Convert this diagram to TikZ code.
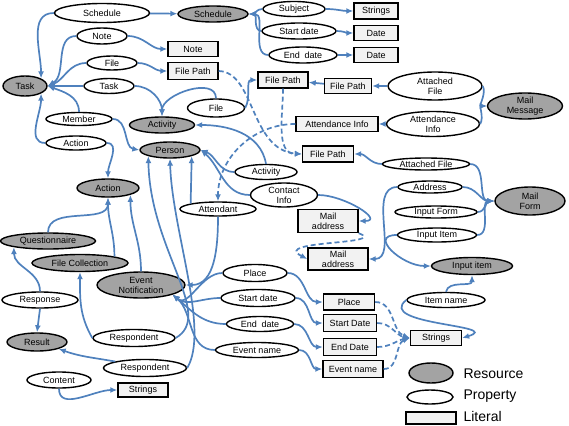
\documentclass[tikz,border=0pt]{standalone}
\usepackage{fontspec}
\setsansfont{Liberation Sans}
\usetikzlibrary{arrows.meta,shapes.geometric}
\definecolor{linkblue}{RGB}{79,129,189}
\definecolor{resgray}{RGB}{163,163,163}
\definecolor{litgray}{RGB}{242,242,242}

\begin{document}
\begin{tikzpicture}[x=1pt,y=1pt,font=\sffamily\fontsize{9}{10}\selectfont,
    res/.style={ellipse,draw,line width=1.4pt,fill=resgray,inner sep=0pt,align=center},
    prop/.style={ellipse,draw,line width=1.4pt,fill=white,inner sep=0pt,align=center},
    lit/.style={rectangle,draw,line width=1.4pt,fill=litgray,inner sep=0pt,align=center},
    wh/.style 2 args={minimum width=#1,minimum height=#2},
    link/.style={draw=linkblue,line width=1.7pt,-{Latex[length=7pt,width=6pt]}},
    dlink/.style={link,dash pattern=on 5pt off 3pt}]

    \useasboundingbox (0,0) rectangle (569,-425);

    % Resources
    \node [res,wh={44}{20}] (task) at (25,-86) {Task};
    \node [res,wh={70}{16}] (schedR) at (213,-14) {Schedule};
    \node [res,wh={65}{16}] (activityR) at (162,-125) {Activity};
    \node [res,wh={60}{16}] (person) at (170,-150) {Person};
    \node [res,wh={62}{18}] (actionR) at (108,-188) {Action};
    \node [res,wh={95}{16}] (quest) at (48,-241) {Questionnaire};
    \node [res,wh={96}{17}] (fileColl) at (80,-263) {File Collection};
    \node [res,wh={88}{26}] (eventNot) at (141,-285) {Event\\Notification};
    \node [res,wh={60}{18}] (result) at (37,-342) {Result};
    \node [res,wh={75}{24}] (mailMsg) at (525,-106) {Mail\\Message};
    \node [res,wh={70}{28}] (mailForm) at (530,-201) {Mail\\Form};
    \node [res,wh={81}{17}] (inputItemR) at (472,-266) {Input item};

    % Properties
    \node [prop,wh={95}{19}] (schedP) at (102,-13) {Schedule};
    \node [prop,wh={50}{16}] (noteP) at (102,-36) {Note};
    \node [prop,wh={50}{14}] (fileP) at (112,-63) {File};
    \node [prop,wh={50}{15}] (taskP) at (109,-86) {Task};
    \node [prop,wh={66}{13}] (memberP) at (79,-119) {Member};
    \node [prop,wh={60}{14}] (actionP) at (76,-143) {Action};
    \node [prop,wh={62}{15}] (subjectP) at (294,-9) {Subject};
    \node [prop,wh={74}{16}] (startP) at (299,-31) {Start date};
    \node [prop,wh={68}{16}] (endP) at (303,-55) {End\enspace date};
    \node [prop,wh={57}{18}] (fileP2) at (216,-108) {File};
    \node [prop,wh={94}{28}] (attFileP) at (435,-86) {Attached\\File};
    \node [prop,wh={93}{25}] (attInfoP) at (433,-124) {Attendance\\Info};
    \node [prop,wh={62}{15}] (activityP) at (266,-172) {Activity};
    \node [prop,wh={67}{24}] (contactP) at (284,-195) {Contact\\Info};
    \node [prop,wh={76}{14}] (attendantP) at (218,-209) {Attendant};
    \node [prop,wh={87}{12}] (attFileP2) at (426,-164) {Attached File};
    \node [prop,wh={64}{12}] (addressP) at (430,-187) {Address};
    \node [prop,wh={82}{12}] (inputFormP) at (436,-212) {Input Form};
    \node [prop,wh={79}{14}] (inputItemP) at (437,-235) {Input Item};
    \node [prop,wh={64}{17}] (placeP) at (255,-273) {Place};
    \node [prop,wh={74}{17}] (startP2) at (258,-298) {Start date};
    \node [prop,wh={67}{15}] (endP2) at (260,-324) {End\enspace date};
    \node [prop,wh={83}{15}] (eventNameP) at (257,-350) {Event name};
    \node [prop,wh={76}{16}] (responseP) at (40,-300) {Response};
    \node [prop,wh={82}{17}] (respP1) at (134,-338) {Respondent};
    \node [prop,wh={83}{17}] (respP2) at (145,-368) {Respondent};
    \node [prop,wh={64}{16}] (contentP) at (59,-380) {Content};
    \node [prop,wh={78}{15}] (itemNameP) at (446,-300) {Item name};

    % Literals
    \node [lit,wh={44}{16}] (stringsL1) at (376,-11) {Strings};
    \node [lit,wh={44}{15}] (dateL1) at (376,-33) {Date};
    \node [lit,wh={44}{15}] (dateL2) at (376,-55) {Date};
    \node [lit,wh={50}{15}] (noteL) at (193,-49) {Note};
    \node [lit,wh={50}{17}] (fpL1) at (193,-71) {File Path};
    \node [lit,wh={50}{16}] (fpL2) at (283,-80) {File Path};
    \node [lit,wh={47}{15}] (fpL3) at (348,-86) {File Path};
    \node [lit,wh={82}{15}] (attInfoL) at (337,-124) {Attendance Info};
    \node [lit,wh={51}{16}] (fpL4) at (328,-154) {File Path};
    \node [lit,wh={60}{23}] (mailL1) at (328,-221) {Mail\\address};
    \node [lit,wh={60}{22}] (mailL2) at (338,-259) {Mail\\address};
    \node [lit,wh={51}{16}] (placeL) at (349,-302) {Place};
    \node [lit,wh={53}{17}] (startL) at (350,-323) {Start Date};
    \node [lit,wh={53}{17}] (endL) at (350,-347) {End Date};
    \node [lit,wh={60}{17}] (eventNameL) at (353,-369) {Event name};
    \node [lit,wh={51}{15}] (stringsL2) at (436,-338) {Strings};
    \node [lit,wh={50}{14}] (stringsL3) at (143,-390) {Strings};

    % Task links
    \draw [link] (schedP.west) to [out=180,in=90] (task.north east);
    \draw [link] (schedP) -- (schedR);
    \draw [link] (noteP.west) to [out=180,in=30] (task.east);
    \draw [link] (noteP.east) to [out=0,in=180] (noteL.west);
    \draw [link] (fileP.west) to [out=180,in=20] (task.east);
    \draw [link] (fileP.east) to [out=0,in=180] (fpL1.west);
    \draw [link] (taskP) -- (task);
    \draw [link] (taskP.east) to [out=0,in=90] (activityR.north);
    \draw [link] (memberP.north) to [out=90,in=-20] (task.east);
    \draw [link] (memberP.east) to [out=0,in=170] (person.west);
    \draw [link] (actionP.west) to [out=180,in=-90] (task.south east);
    \draw [link] (actionP.east) to [out=0,in=90] (actionR.north);

    % Schedule links
    \draw [link] (subjectP.west) to [out=180,in=0] (schedR.east);
    \draw [link] (startP.west) to [out=180,in=0] (schedR.east);
    \draw [link] (endP.west) to [out=180,in=0] (schedR.east);
    \draw [link] (subjectP.east) to [out=0,in=180] (stringsL1.west);
    \draw [link] (startP.east) to [out=0,in=180] (dateL1.west);
    \draw [link] (endP.east) to [out=0,in=180] (dateL2.west);

    % File paths and mail message
    \draw [link] (fileP2.north) to [out=90,in=90] (activityR.north);
    \draw [link] (fileP2.east) to [out=60,in=180] (fpL2.west);
    \draw [dlink] (fpL1.east) .. controls (255,-72) and (250,-150) .. (fpL4.west);
    \draw [dlink] (fpL2.south) to [out=-90,in=180] (fpL4.west);
    \draw [link] (fpL3) -- (fpL2);
    \draw [link] (attFileP) -- (fpL3);
    \draw [link] (attFileP.east) to [out=-60,in=180] (mailMsg.west);
    \draw [link] (attInfoP.east) to [out=60,in=180] (mailMsg.west);
    \draw [link] (attInfoP) -- (attInfoL);
    \draw [dlink] (attInfoL.west) to [out=180,in=90] (attendantP.north);

    % Person links
    \draw [link] (activityP.north) to [out=100,in=0] (activityR.east);
    \draw [link] (activityP.west) to [out=180,in=-20] (person.east);
    \draw [link] (contactP.west) to [out=180,in=-40] (person.east);
    \draw [link] (contactP.east) to [out=0,in=0,looseness=1.4] (mailL1.east);
    \draw [dlink] (mailL1.south east) .. controls (390,-245) and (270,-240) .. (mailL2.west);

    % Mail form links
    \draw [link] (addressP.west) to [out=180,in=0] (mailL2.east);
    \draw [link] (attFileP2.west) to [out=180,in=0] (fpL4.east);
    \draw [link] (attFileP2.east) to [out=0,in=180] (mailForm.west);
    \draw [link] (addressP.east) to [out=0,in=180] (mailForm.west);
    \draw [link] (inputFormP.east) to [out=0,in=180] (mailForm.west);
    \draw [link] (inputItemP.east) to [out=0,in=180] (mailForm.west);
    \draw [link] (inputItemP.west) to [out=180,in=180,looseness=1.6] (inputItemR.west);
    \draw [link] (itemNameP.north) to [out=80,in=-90] (inputItemR.south);
    \draw [link] (itemNameP.west) .. controls (375,-325) and (505,-325) .. (stringsL2.east);

    % Event notification links
    \draw [link] (attendantP.north west) -- (person.south east);
    \draw [link] (attendantP.south) to [out=-90,in=0] (eventNot.east);
    \draw [link] (eventNot.north) to [out=90,in=-90] (actionR.south east);
    \draw [link] (quest.north) to [out=90,in=-90] (actionR.south);
    \draw [link] (fileColl.north east) to [out=90,in=-90] (actionR.south);
    \draw [link] (placeP.west) to [out=180,in=-40] (eventNot.south east);
    \draw [link] (startP2.west) to [out=180,in=-40] (eventNot.south east);
    \draw [link] (endP2.west) to [out=180,in=-40] (eventNot.south east);
    \draw [link] (eventNameP.west) to [out=180,in=-40] (eventNot.south east);
    \draw [link] (placeP.east) to [out=0,in=180] (placeL.west);
    \draw [link] (startP2.east) to [out=0,in=180] (startL.west);
    \draw [link] (endP2.east) to [out=0,in=180] (endL.west);
    \draw [link] (eventNameP.east) to [out=0,in=180] (eventNameL.west);
    \draw [dlink] (placeL.east) to [out=0,in=160] (stringsL2.west);
    \draw [dlink] (startL.east) to [out=0,in=170] (stringsL2.west);
    \draw [dlink] (endL.east) to [out=0,in=190] (stringsL2.west);
    \draw [dlink] (eventNameL.east) to [out=0,in=200] (stringsL2.west);

    % Questionnaire and result links
    \draw [link] (responseP.north) to [out=90,in=-90] (quest.south west);
    \draw [link] (responseP.south) -- (result.north);
    \draw [link] (respP1.west) to [out=120,in=-90] (fileColl.south);
    \draw [link] (respP1.east) .. controls (215,-315) and (150,-250) .. (person.south west);
    \draw [link] (respP2.east) .. controls (210,-330) and (172,-230) .. (person.south);
    \draw [link] (respP2.north west) to [out=170,in=-20] (result.south east);
    \draw [link] (contentP.south) to [out=-90,in=180] (stringsL3.west);

    % Legend
    \node [res,wh={44}{20}] (legRes) at (431,-373) {};
    \node [prop,wh={46}{14}] (legProp) at (430,-397) {};
    \node [lit,wh={50}{12}] (legLit) at (431,-418) {};
    \node [anchor=west,font=\sffamily\fontsize{14}{16}\selectfont] (legResText) at (460,-374) {Resource};
    \node [anchor=west,font=\sffamily\fontsize{14}{16}\selectfont] (legPropText) at (460,-396) {Property};
    \node [anchor=west,font=\sffamily\fontsize{14}{16}\selectfont] (legLitText) at (460,-416) {Literal};

\end{tikzpicture}
\end{document}
